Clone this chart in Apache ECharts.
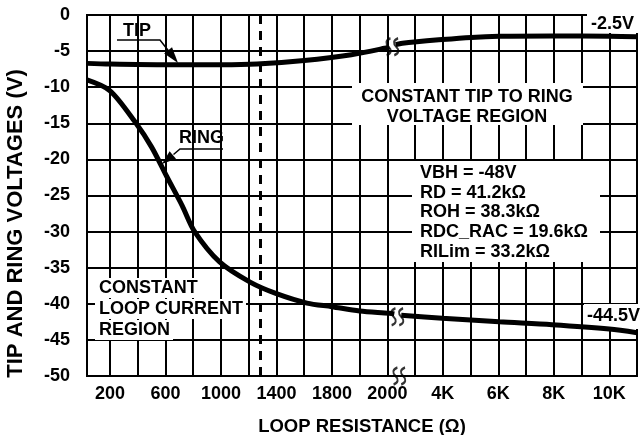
<!DOCTYPE html>
<html>
<head>
<meta charset="utf-8">
<title>Tip and Ring Voltages vs Loop Resistance</title>
<script src="https://cdn.jsdelivr.net/npm/echarts@6/dist/echarts.min.js"></script>
<style>
    html, body { margin: 0; padding: 0; background: #fff; }
    #main { width: 641px; height: 435px; }
</style>
</head>
<body>
<div id="main"></div>
<script>
// loop resistance (ohm) and voltage (V)
var tipNearR = [34, 200, 610, 1000, 1260, 1600, 1870, 1990, 2070];
var tipNearV = [-6.7, -6.8, -6.9, -6.9, -6.8, -6.3, -5.5, -4.6, -4.4];
var tipFarR = [2300, 2540, 3980, 5020, 6030, 7935, 10000, 11000];
var tipFarV = [-4.1, -3.9, -3.4, -3.1, -2.95, -2.9, -2.95, -3.0];
var ringNearR = [34, 200, 380, 500, 610, 720, 810, 990, 1210, 1400, 1620, 1800, 1900, 2070, 2250];
var ringNearV = [-9.0, -10.5, -14.8, -18.3, -22.4, -26.4, -30, -34.2, -37, -38.6, -39.9, -40.4, -41.0, -41.3, -41.4];
var ringFarR = [2500, 3980, 6030, 7935, 10000, 11000];
var ringFarV = [-41.6, -42.0, -42.5, -42.9, -43.5, -44.0];

var xTickR = [200, 600, 1000, 1400, 1800, 2000, 4000, 6000, 8000, 10000];
var xTickLabels = ['200', '600', '1000', '1400', '1800', '2000', '4K', '6K', '8K', '10K'];
var xGridR = [200, 400, 600, 800, 1000, 1200, 1400, 1600, 1800, 1900, 2000,
              3000, 4000, 5000, 6000, 7000, 8000, 9000, 10000];
var breakMarks = [[2180, -4.4], [2360, -41.8], [2430, -50]];
var regionBoundaryR = 1280;

// broken axis: 200 ohm/div up to 1800, 100 ohm/div to 2000, then 1000 ohm/div
function toAxis(r) {
    if (r <= 1800) return r / 200;
    if (r <= 2000) return 9 + (r - 1800) / 100;
    return 11 + (r - 2000) / 1000;
}
function pairs(rs, vs) {
    return rs.map(function (r, i) { return [toAxis(r), vs[i]]; });
}

var font = 'Arial';
var tickU = xTickR.map(toAxis);
var gridU = xGridR.map(toAxis);

function curve(rs, vs) {
    return {
        type: 'line',
        data: pairs(rs, vs),
        showSymbol: false,
        smooth: 0.3,
        lineStyle: { color: '#000', width: 5 },
        z: 3
    };
}

function arrowHead(tip, base, half) {
    var dx = tip[0] - base[0], dy = tip[1] - base[1];
    var len = Math.sqrt(dx * dx + dy * dy);
    var px = -dy / len * half, py = dx / len * half;
    return [tip, [base[0] + px, base[1] + py], [base[0] - px, base[1] - py]];
}

function label(x, y, s, extra) {
    var style = {
        text: s, x: x, y: y, verticalAlign: 'middle',
        fontFamily: font, fontWeight: 'bold', fontSize: 18, fill: '#000'
    };
    Object.assign(style, extra || {});
    return { type: 'text', z: 4, style: style };
}
var axisFont = { fontFamily: font, fontWeight: 'bold', fontSize: 18, color: '#000' };

var chart = echarts.init(document.getElementById('main'));
var option = {
    animation: false,
    grid: {
        left: 87, right: 4, top: 15, bottom: 59,
        outerBoundsMode: 'none',
        show: true, borderColor: '#000', borderWidth: 2
    },
    xAxis: {
        type: 'value',
        min: toAxis(34),
        max: toAxis(11000),
        name: 'LOOP RESISTANCE (\u03A9)',
        nameLocation: 'middle',
        nameGap: 41,
        nameTextStyle: Object.assign({}, axisFont, { fontSize: 18.5 }),
        axisLine: { show: false },
        axisTick: { show: false, customValues: gridU },
        splitLine: { show: true, lineStyle: { color: '#000', width: 2 } },
        axisLabel: Object.assign({
            customValues: tickU,
            margin: 9,
            formatter: function (v) {
                for (var i = 0; i < tickU.length; i++) {
                    if (Math.abs(tickU[i] - v) < 1e-6) return xTickLabels[i];
                }
                return '';
            }
        }, axisFont)
    },
    yAxis: {
        type: 'value',
        min: -50,
        max: 0,
        interval: 5,
        name: 'TIP AND RING VOLTAGES (V)',
        nameLocation: 'middle',
        nameGap: 60,
        nameTextStyle: Object.assign({}, axisFont, { fontSize: 22, padding: [0, 56, 0, 0] }),
        axisLine: { show: false },
        axisTick: { show: false },
        splitLine: { show: true, lineStyle: { color: '#000', width: 2 } },
        axisLabel: Object.assign({ margin: 17 }, axisFont)
    },
    series: [
        Object.assign(curve(tipNearR, tipNearV), {
            markLine: {
                silent: true,
                symbol: 'none',
                label: { show: false },
                lineStyle: { color: '#000', width: 3, type: [9, 7] },
                data: [{ xAxis: toAxis(regionBoundaryR) }]
            }
        }),
        curve(tipFarR, tipFarV),
        curve(ringNearR, ringNearV),
        curve(ringFarR, ringFarV),
        {
            type: 'scatter',
            data: breakMarks.map(function (p) { return [toAxis(p[0]), p[1]]; }),
            symbol: 'path://M4,0 C0,2 0,5 2.5,8 C5,11 5,14 1,16 M10,0 C6,2 6,5 8.5,8 C11,11 11,14 7,16',
            symbolSize: [12, 17],
            itemStyle: { color: 'rgba(0,0,0,0)', borderColor: '#000', borderWidth: 2.2 },
            clip: false,
            silent: true,
            z: 5
        }
    ],
    graphic: [
        { type: 'rect', z: 1, shape: { x: 352, y: 83, width: 231, height: 42 }, style: { fill: '#fff' } },
        label(467, 107, 'CONSTANT TIP TO RING\nVOLTAGE REGION', { align: 'center', lineHeight: 20 }),
        { type: 'rect', z: 1, shape: { x: 412, y: 161, width: 188, height: 101 }, style: { fill: '#fff' } },
        label(420, 212.5, 'VBH = -48V\nRD = 41.2k\u03A9\nROH = 38.3k\u03A9\nRDC_RAC = 19.6k\u03A9\nRILim = 33.2k\u03A9',
              { align: 'left', lineHeight: 19.75 }),
        label(95, 288, 'CONSTANT', { align: 'left', backgroundColor: '#fff', padding: [1, 3, 1, 4] }),
        label(95, 309, 'LOOP CURRENT', { align: 'left', backgroundColor: '#fff', padding: [1, 3, 1, 4] }),
        label(95, 330, 'REGION', { align: 'left', backgroundColor: '#fff', padding: [1, 3, 1, 4] }),
        { type: 'rect', z: 1, shape: { x: 587, y: 0, width: 54, height: 33 }, style: { fill: '#fff' } },
        label(591, 24, '-2.5V', { align: 'left' }),
        { type: 'rect', z: 1, shape: { x: 584, y: 304, width: 57, height: 25 }, style: { fill: '#fff' } },
        label(587, 316, '-44.5V', { align: 'left' }),
        label(123, 31, 'TIP', { align: 'left' }),
        { type: 'polyline', z: 4, shape: { points: [[117, 40], [160, 40], [169, 51.5]] }, style: { stroke: '#000', lineWidth: 1.5, fill: null } },
        { type: 'polygon', z: 4, shape: { points: arrowHead([178, 63], [168.1, 50.4], 5) }, style: { fill: '#000' } },
        label(179, 138, 'RING', { align: 'left' }),
        { type: 'polyline', z: 4, shape: { points: [[223, 149], [180, 149], [173.5, 154.5]] }, style: { stroke: '#000', lineWidth: 1.5, fill: null } },
        { type: 'polygon', z: 4, shape: { points: arrowHead([162, 164], [172.8, 155], 5) }, style: { fill: '#000' } }
    ]
};
chart.setOption(option);
</script>
</body>
</html>
